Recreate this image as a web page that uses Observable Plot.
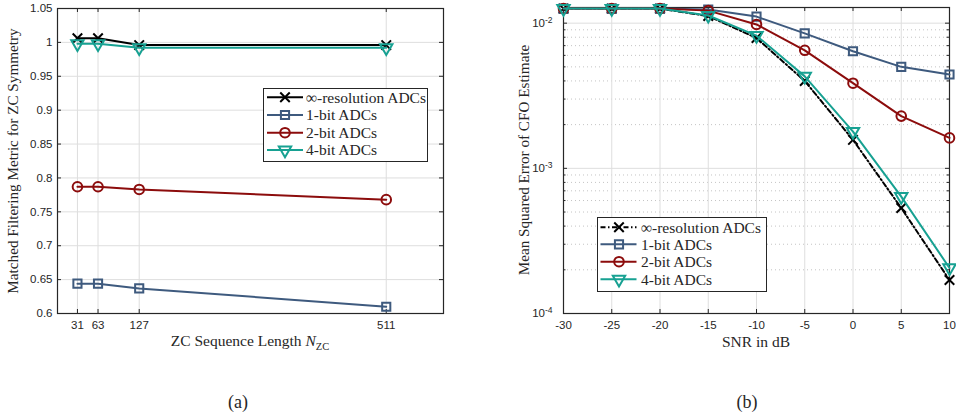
<!DOCTYPE html>
<html><head><meta charset="utf-8">
<script src="https://cdn.jsdelivr.net/npm/d3@7"></script>
<script src="https://cdn.jsdelivr.net/npm/@observablehq/plot@0.6"></script>
<style>
body{margin:0;background:#fff}
#fig{position:relative;width:956px;height:414px;overflow:hidden;background:#fff}
.abs{position:absolute;white-space:nowrap;font-family:"Liberation Serif","Times New Roman",serif;color:#262626;line-height:1}
.panel{position:absolute;top:0}
</style></head><body><div id="fig"></div>
<script>
// ---------- data ----------
const seriesNames = ["∞-resolution ADCs", "1-bit ADCs", "2-bit ADCs", "4-bit ADCs"];
const colors = ["#000000", "#3e5a7e", "#8c0c0c", "#17a192"];
const symbols = ["times", "square", "circle", "triangle"];
const rotates = [0, 0, 0, 180];
const radii = [4.4, 4.6, 4.8, 4.6];

// (a) ZC sequence length
const nzc = [31, 63, 127, 511];
const infA  = [1.006, 1.006, 0.996, 0.996];
const bit1A = [0.644, 0.644, 0.637, 0.610];
const bit2A = [0.787, 0.787, 0.783, 0.768];
const bit4A = [0.998, 0.998, 0.992, 0.992];
const yTicksA = [0.6, 0.65, 0.7, 0.75, 0.8, 0.85, 0.9, 0.95, 1, 1.05];

// (b) SNR in dB
const snr = [-30, -25, -20, -15, -10, -5, 0, 5, 10];
const infB  = [0.0126, 0.0126, 0.0126, 0.0112, 0.0079, 0.0040, 0.00157, 0.000533, 0.000170];
const bit1B = [0.0126, 0.0126, 0.0126, 0.0124, 0.0111, 0.0085, 0.0064, 0.0050, 0.00443];
const bit2B = [0.0126, 0.0126, 0.0126, 0.0122, 0.0098, 0.0065, 0.00386, 0.00229, 0.00162];
const bit4B = [0.0126, 0.0126, 0.0126, 0.0113, 0.0082, 0.0043, 0.00179, 0.000638, 0.000206];
const xTicksB = [-30, -25, -20, -15, -10, -5, 0, 5, 10];
const yTicksB = [1e-4, 1e-3, 1e-2];
const yMinorB = [2,3,4,5,6,7,8,9].flatMap(m => [m * 1e-4, m * 1e-3]);

// ---------- helpers ----------
const AX = "#262626", GRID = "#dedede", MINOR = "#c4c4c4";
const W = 478, H = 414;
function seriesMarks(xs, series, dashFirst) {
  return series.flatMap((vals, i) => {
    const data = xs.map((x, j) => ({x, y: vals[j]}));
    return [
      Plot.line(data, {x: "x", y: "y", stroke: colors[i], strokeWidth: 2,
        strokeDasharray: (dashFirst && i === 0) ? "5,2.5,1.5,2.5" : undefined}),
      Plot.dot(data, {x: "x", y: "y", symbol: symbols[i], r: radii[i], stroke: colors[i],
        strokeWidth: 2, fill: "none", rotate: rotates[i]})
    ];
  });
}
function inwardTicks(xt, yt, fw, fh, len) {
  return [
    Plot.tickX(xt, {x: d => d, insetTop: fh - len, stroke: AX}),
    Plot.tickX(xt, {x: d => d, insetBottom: fh - len, stroke: AX}),
    Plot.tickY(yt, {y: d => d, insetRight: fw - len, stroke: AX}),
    Plot.tickY(yt, {y: d => d, insetLeft: fw - len, stroke: AX})
  ];
}
const baseStyle = {fontFamily: "'Liberation Sans', Arial, sans-serif", fontSize: "11.5px", color: AX, background: "transparent", overflow: "visible"};

// ---------- (a) ----------
const mA = {l: 57, r: 35, t: 8, b: 101};
const fwA = W - mA.l - mA.r, fhA = H - mA.t - mA.b;
const A = Plot.plot({
  width: W, height: H, marginLeft: mA.l, marginRight: mA.r, marginTop: mA.t, marginBottom: mA.b,
  style: baseStyle,
  x: {domain: [0, 600], label: null},
  y: {domain: [0.6, 1.05], label: null},
  marks: [
    Plot.gridX(nzc, {stroke: GRID, strokeOpacity: 1}),
    Plot.gridY(yTicksA, {stroke: GRID, strokeOpacity: 1}),
    Plot.axisX(nzc, {tickSize: 0, tickPadding: 7, label: null, tickFormat: d => String(d)}),
    Plot.axisY(yTicksA, {tickSize: 0, tickPadding: 5, label: null, tickFormat: d => String(d)}),
    ...inwardTicks(nzc, yTicksA, fwA, fhA, 4),
    Plot.frame({stroke: AX, strokeWidth: 1.2}),
    ...seriesMarks(nzc, [infA, bit1A, bit2A, bit4A], false)
  ]
});

// ---------- (b) ----------
const mB = {l: 85, r: 7, t: 7, b: 101};
const fwB = W - mB.l - mB.r, fhB = H - mB.t - mB.b;
const B = Plot.plot({
  width: W, height: H, marginLeft: mB.l, marginRight: mB.r, marginTop: mB.t, marginBottom: mB.b,
  style: baseStyle,
  x: {domain: [-30, 10], label: null},
  y: {type: "log", domain: [1e-4, 0.01282], label: null},
  marks: [
    Plot.gridY(yMinorB, {stroke: MINOR, strokeOpacity: 1, strokeDasharray: "1,3"}),
    Plot.gridX(xTicksB, {stroke: GRID, strokeOpacity: 1}),
    Plot.gridY(yTicksB, {stroke: GRID, strokeOpacity: 1}),
    Plot.axisX(xTicksB, {tickSize: 0, tickPadding: 7, label: null, tickFormat: d => String(d)}),
    Plot.axisY(yTicksB, {tickSize: 0, tickPadding: 11, label: null, tickFormat: d => String(Math.round(Math.log10(d)))}),
    ...inwardTicks(xTicksB, yTicksB, fwB, fhB, 4),
    Plot.tickY(yMinorB, {y: d => d, insetRight: fwB - 2.5, stroke: AX}),
    Plot.tickY(yMinorB, {y: d => d, insetLeft: fwB - 2.5, stroke: AX}),
    Plot.frame({stroke: AX, strokeWidth: 1.2}),
    ...seriesMarks(snr, [infB, bit1B, bit2B, bit4B], true)
  ]
});
// superscript exponents on log tick labels
d3.select(B).selectAll('g[aria-label="y-axis tick label"] text').each(function () {
  const e = this.textContent;
  const t = d3.select(this);
  t.text(null);
  t.append("tspan").text("10");
  t.append("tspan").attr("dy", "-0.5em").attr("font-size", "8.5px").text(e);
});

const fig = document.getElementById("fig");
const pa = document.createElement("div"); pa.className = "panel"; pa.style.left = "0px"; pa.appendChild(A); fig.appendChild(pa);
const pb = document.createElement("div"); pb.className = "panel"; pb.style.left = "478px"; pb.appendChild(B); fig.appendChild(pb);

// ---------- text labels ----------
function label(html, x, y, size, rot) {
  const d = document.createElement("div");
  d.className = "abs";
  d.innerHTML = html;
  d.style.left = x + "px"; d.style.top = y + "px"; d.style.fontSize = size + "px";
  d.style.transform = "translate(-50%,-50%)" + (rot ? " rotate(-90deg)" : "");
  fig.appendChild(d);
}
label("ZC Sequence Length <i>N</i><sub style='font-size:10.5px'>ZC</sub>", 250, 343, 15.5, false);
label("Matched Filtering Metric for ZC Symmetry", 13, 161, 15.2, true);
label("SNR in dB", 756, 342, 15.5, false);
label("Mean Squared Error of CFO Estimate", 524, 160, 15.2, true);
label("(a)", 238, 402, 18, false);
label("(b)", 747, 402, 18, false);

// ---------- legends ----------
const ov = d3.select(fig).append("svg").attr("width", 956).attr("height", 414)
  .style("position", "absolute").style("left", 0).style("top", 0).style("pointer-events", "none");
function legend(box, rows, lx1, lx2, mx, tx, dashFirst) {
  ov.append("rect").attr("x", box[0] + 0.5).attr("y", box[1] + 0.5).attr("width", box[2] - box[0])
    .attr("height", box[3] - box[1]).attr("fill", "#fff").attr("stroke", AX).attr("stroke-width", 1);
  const sym = {times: d3.symbolTimes, square: d3.symbolSquare, circle: d3.symbolCircle, triangle: d3.symbolTriangle};
  seriesNames.forEach((name, i) => {
    const y = rows[i];
    ov.append("line").attr("x1", lx1).attr("x2", lx2).attr("y1", y).attr("y2", y)
      .attr("stroke", colors[i]).attr("stroke-width", 2)
      .attr("stroke-dasharray", (dashFirst && i === 0) ? "5,2.5,1.5,2.5" : null);
    ov.append("path").attr("d", d3.symbol(sym[symbols[i]], Math.PI * radii[i] * radii[i])())
      .attr("transform", `translate(${mx},${y}) rotate(${rotates[i]})`)
      .attr("fill", "none").attr("stroke", colors[i]).attr("stroke-width", 2);
    ov.append("text").attr("x", tx).attr("y", y).attr("dy", "0.35em")
      .attr("font-family", "'Liberation Serif','Times New Roman',serif").attr("font-size", 15.5)
      .attr("fill", AX).text(name);
  });
}
legend([263, 88, 427, 161], [97.3, 115, 132.7, 150], 267, 303, 285, 306, false);
legend([597, 217, 766, 291], [227.3, 244.3, 261.7, 279.3], 600.5, 636.5, 619, 641, true);
</script>
</body></html>
